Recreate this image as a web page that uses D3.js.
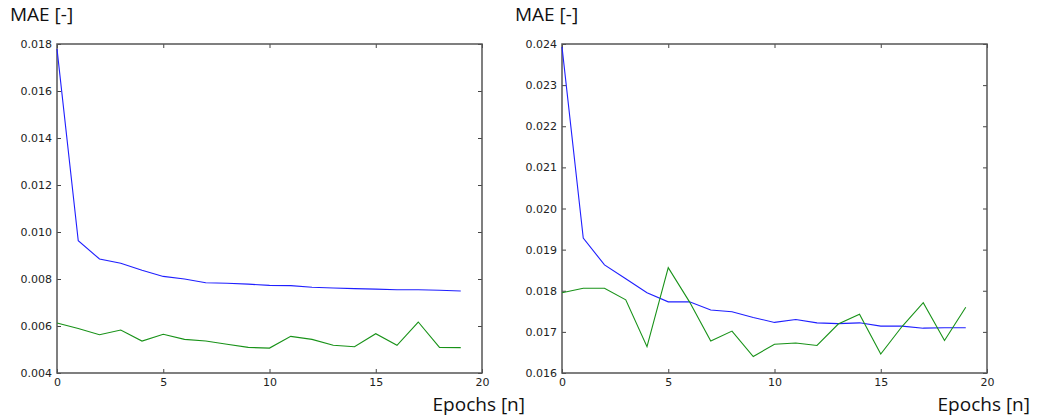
<!DOCTYPE html>
<html>
<head>
<meta charset="utf-8">
<script src="https://cdn.jsdelivr.net/npm/d3@7"></script>
<style>
  html, body { margin: 0; padding: 0; background: #fff; }
  svg { display: block; }
  .tick text { font-family: "DejaVu Sans", sans-serif; font-size: 11px; fill: #222; }
  .title { font-family: "Open Sans", sans-serif; font-size: 19px; fill: #111; }
</style>
</head>
<body>
<svg id="chart" width="1037" height="419"></svg>
<script>
// Training epochs shared by both panels
const epochs = d3.range(0, 20);

// Left panel: MAE per epoch
const leftTrain = [0.01779, 0.00963, 0.00885, 0.00867, 0.00837, 0.00811, 0.00800, 0.00784, 0.00782, 0.00778,
                   0.00773, 0.00772, 0.00765, 0.00762, 0.00759, 0.00757, 0.00754, 0.00754, 0.00752, 0.00749];
const leftVal   = [0.00613, 0.00589, 0.00563, 0.00583, 0.00536, 0.00565, 0.00543, 0.00536, 0.00522, 0.00509,
                   0.00506, 0.00556, 0.00543, 0.00518, 0.00512, 0.00567, 0.00518, 0.00617, 0.00509, 0.00508];
const leftYTicks = [0.004, 0.006, 0.008, 0.010, 0.012, 0.014, 0.016, 0.018];

// Right panel: MAE per epoch
const rightTrain = [0.02393, 0.01928, 0.01863, 0.01829, 0.01795, 0.01773, 0.01773, 0.01753, 0.01749, 0.01735,
                    0.01723, 0.01730, 0.01722, 0.01720, 0.01722, 0.01714, 0.01714, 0.01709, 0.01710, 0.01710];
const rightVal   = [0.01795, 0.01806, 0.01806, 0.01778, 0.01664, 0.01856, 0.01773, 0.01678, 0.01702, 0.01640,
                    0.01670, 0.01673, 0.01667, 0.01719, 0.01743, 0.01646, 0.01713, 0.01771, 0.01679, 0.01760];
const rightYTicks = [0.016, 0.017, 0.018, 0.019, 0.020, 0.021, 0.022, 0.023, 0.024];

const xTicks = [0, 5, 10, 15, 20];
const yLabel = "MAE [-]";
const xLabel = "Epochs [n]";

const svg = d3.select("#chart");

function drawPanel(opts) {
  const { left, right, top, bottom, yDomain, yTicks, train, val, yTitleX, xTitleRight } = opts;
  const x = d3.scaleLinear().domain([0, 20]).range([left, right]);
  const y = d3.scaleLinear().domain(yDomain).range([bottom, top]);
  const g = svg.append("g");
  const fmt = d3.format(".3f");

  // Inward ticks on all four sides
  const axB = g.append("g").attr("transform", `translate(0,${bottom})`)
    .call(d3.axisBottom(x).tickValues(xTicks).tickFormat(d3.format("d")).tickSizeInner(-4).tickSizeOuter(0).tickPadding(5));
  const axT = g.append("g").attr("transform", `translate(0,${top})`)
    .call(d3.axisTop(x).tickValues(xTicks).tickFormat("").tickSizeInner(-4).tickSizeOuter(0));
  const axL = g.append("g").attr("transform", `translate(${left},0)`)
    .call(d3.axisLeft(y).tickValues(yTicks).tickFormat(fmt).tickSizeInner(-4).tickSizeOuter(0).tickPadding(5));
  const axR = g.append("g").attr("transform", `translate(${right},0)`)
    .call(d3.axisRight(y).tickValues(yTicks).tickFormat("").tickSizeInner(-4).tickSizeOuter(0));
  [axB, axT, axL, axR].forEach(a => {
    a.select(".domain").remove();
    a.selectAll(".tick line").attr("stroke", "#444").attr("stroke-width", 1);
  });

  // Frame
  g.append("rect")
    .attr("x", left).attr("y", top)
    .attr("width", right - left).attr("height", bottom - top)
    .attr("fill", "none").attr("stroke", "#555").attr("stroke-width", 1.5);

  const line = d3.line().x((d, i) => x(epochs[i])).y(d => y(d));
  g.append("path").datum(train).attr("d", line)
    .attr("fill", "none").attr("stroke", "#1f1fff").attr("stroke-width", 1.1);
  g.append("path").datum(val).attr("d", line)
    .attr("fill", "none").attr("stroke", "#189218").attr("stroke-width", 1.1);

  g.append("text").attr("class", "title").attr("x", yTitleX).attr("y", 21).text(yLabel);
  g.append("text").attr("class", "title").attr("x", xTitleRight).attr("y", 411)
    .attr("text-anchor", "end").text(xLabel);
}

drawPanel({
  left: 57, right: 482, top: 44, bottom: 373,
  yDomain: [0.004, 0.018], yTicks: leftYTicks,
  train: leftTrain, val: leftVal,
  yTitleX: 10, xTitleRight: 525
});

drawPanel({
  left: 562, right: 987, top: 44, bottom: 373,
  yDomain: [0.016, 0.024], yTicks: rightYTicks,
  train: rightTrain, val: rightVal,
  yTitleX: 515, xTitleRight: 1030
});
</script>
</body>
</html>
